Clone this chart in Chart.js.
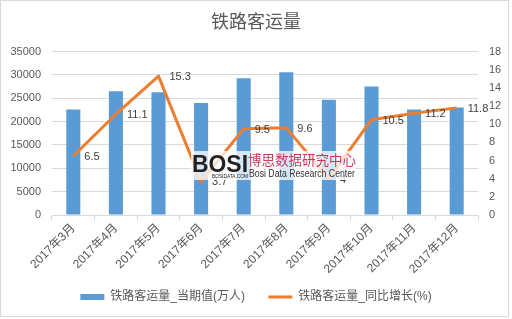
<!DOCTYPE html>
<html>
<head>
<meta charset="utf-8">
<script src="https://cdn.jsdelivr.net/npm/chart.js@4"></script>
<style>
  html, body { margin: 0; padding: 0; background: #fff; }
  #wrap { width: 512px; height: 319px; position: relative; }
</style>
</head>
<body>
<div id="wrap"><canvas id="chart" width="512" height="319"></canvas></div>
<script>
const months = ['2017年3月', '2017年4月', '2017年5月', '2017年6月', '2017年7月',
  '2017年8月', '2017年9月', '2017年10月', '2017年11月', '2017年12月'];
const passengers = [22600, 26500, 26300, 24000, 29300, 30600, 24700, 27500, 22600, 23000];
const growth = [6.5, 11.1, 15.3, 3.7, 9.5, 9.6, 4, 10.5, 11.2, 11.8];
const leftTicks = [0, 5000, 10000, 15000, 20000, 25000, 30000, 35000];
const rightTicks = [0, 2, 4, 6, 8, 10, 12, 14, 16, 18];

const FONT = "'Liberation Sans', 'Noto Sans CJK SC', sans-serif";
const TXT = '#595959';
const GRID = '#D9D9D9';

// labels next to the line points
const pointLabels = {
  id: 'pointLabels',
  afterDatasetsDraw(chart) {
    const ctx = chart.ctx;
    const meta = chart.getDatasetMeta(1);
    ctx.save();
    ctx.font = '11px ' + FONT;
    ctx.fillStyle = '#404040';
    ctx.textAlign = 'left';
    ctx.textBaseline = 'middle';
    meta.data.forEach((pt, i) => {
      ctx.fillText(String(growth[i]), pt.x + 11, pt.y + 1);
    });
    ctx.restore();
  }
};

// watermark + chart frame
const frame = {
  id: 'frame',
  afterDraw(chart) {
    const ctx = chart.ctx;
    ctx.save();
    ctx.fillStyle = 'rgba(255,255,255,0.75)';
    ctx.fillRect(191, 151, 165, 29);
    ctx.font = 'bold 23px ' + FONT;
    ctx.fillStyle = '#222';
    ctx.textBaseline = 'alphabetic';
    ctx.fillText('BOSI', 192, 172, 56);
    ctx.font = '5px ' + FONT;
    ctx.fillText('BOSIDATA.COM', 212, 178, 36);
    ctx.font = '13.5px ' + FONT;
    ctx.fillStyle = '#C83A5C';
    ctx.textBaseline = 'middle';
    ctx.fillText('博思数据研究中心', 248, 161, 108);
    ctx.font = '11px ' + FONT;
    ctx.fillStyle = '#333';
    ctx.fillText('Bosi Data Research Center', 249, 174, 106);
    ctx.strokeStyle = GRID;
    ctx.lineWidth = 1;
    ctx.strokeRect(0.5, 0.5, 508, 316);
    ctx.restore();
  }
};

new Chart(document.getElementById('chart'), {
  data: {
    labels: months,
    datasets: [
      {
        type: 'bar',
        label: '铁路客运量_当期值(万人)',
        data: passengers,
        backgroundColor: '#5B9BD5',
        barPercentage: 0.33,
        categoryPercentage: 1,
        yAxisID: 'y',
        order: 1,
        pointStyle: 'rect',
      },
      {
        type: 'line',
        label: '铁路客运量_同比增长(%)',
        data: growth,
        borderColor: '#ED7D31',
        backgroundColor: '#ED7D31',
        borderWidth: 3,
        tension: 0,
        pointRadius: 0,
        borderJoinStyle: 'round',
        yAxisID: 'y1',
        order: 0,
        pointStyle: 'line',
      },
    ],
  },
  options: {
    responsive: false,
    animation: false,
    layout: { padding: { left: 0, right: 0, top: 0, bottom: 6 } },
    plugins: {
      title: {
        display: true,
        text: '铁路客运量',
        color: TXT,
        font: { family: FONT, size: 18, weight: 'normal' },
        padding: { top: 12, bottom: 18 },
      },
      legend: {
        position: 'bottom',
        labels: {
          color: TXT,
          font: { family: FONT, size: 12 },
          usePointStyle: true,
          pointStyleWidth: 24,
          boxHeight: 6,
          padding: 10,
          sort: (a, b) => a.datasetIndex - b.datasetIndex,
          generateLabels: (chart) => {
            const items = Chart.defaults.plugins.legend.labels.generateLabels(chart);
            items.forEach((it) => { if (it.datasetIndex === 0) it.text += '    '; });
            return items;
          },
        },
      },
      tooltip: { enabled: false },
    },
    scales: {
      x: {
        offset: true,
        grid: { offset: true, drawOnChartArea: false, drawTicks: true, tickLength: 5, color: GRID },
        border: { color: GRID },
        ticks: {
          color: TXT,
          font: { family: FONT, size: 12 },
          minRotation: 45,
          maxRotation: 45,
          padding: 1,
          autoSkip: false,
        },
        afterFit: (s) => { s.height = 66; },
      },
      y: {
        position: 'left',
        min: leftTicks[0],
        max: leftTicks[leftTicks.length - 1],
        grid: { color: GRID, drawTicks: false },
        border: { display: false },
        ticks: {
          stepSize: leftTicks[1] - leftTicks[0],
          color: TXT,
          font: { family: FONT, size: 11 },
          padding: 11,
          callback: (v) => String(v),
        },
        afterFit: (s) => { s.width = 52; },
      },
      y1: {
        position: 'right',
        min: rightTicks[0],
        max: rightTicks[rightTicks.length - 1],
        grid: { drawOnChartArea: false, drawTicks: false },
        border: { display: false },
        ticks: {
          stepSize: rightTicks[1] - rightTicks[0],
          color: TXT,
          font: { family: FONT, size: 11 },
          padding: 11,
          callback: (v) => String(v),
        },
        afterFit: (s) => { s.width = 34; },
      },
    },
  },
  plugins: [pointLabels, frame],
});
</script>
</body>
</html>
